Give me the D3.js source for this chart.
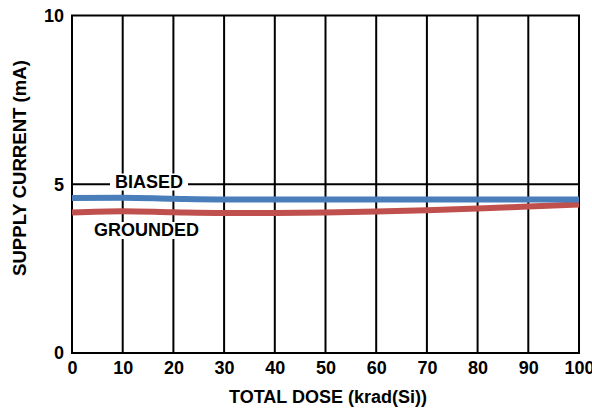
<!DOCTYPE html>
<html><head><meta charset="utf-8">
<script src="https://cdn.jsdelivr.net/npm/d3@7"></script>
<style>body{margin:0;background:#fff}svg{display:block}text{font-family:"Liberation Sans",Arial,sans-serif;font-weight:bold;fill:#000}</style>
</head><body>
<script>
const dose = [0,10,20,30,40,50,60,70,80,90,100];
const biased = [4.59,4.60,4.57,4.55,4.55,4.55,4.55,4.55,4.55,4.55,4.55];
const grounded = [4.16,4.20,4.17,4.15,4.15,4.16,4.19,4.23,4.28,4.34,4.40];
const xTicks = [0,10,20,30,40,50,60,70,80,90,100];
const yTicks = [0,5,10];
const seriesLabels = ["BIASED","GROUNDED"];

const W=592,H=408;
const svg=d3.select("body").append("svg").attr("width",W).attr("height",H);
const x=d3.scaleLinear().domain([0,100]).range([72,579]);
const y=d3.scaleLinear().domain([0,10]).range([353,15.5]);

// grid
const g=svg.append("g");
g.selectAll("line.v").data(xTicks).enter().append("line")
 .attr("x1",d=>x(d)).attr("x2",d=>x(d)).attr("y1",y(0)).attr("y2",y(10))
 .attr("stroke","#000").attr("stroke-width",2);
g.selectAll("line.h").data(yTicks).enter().append("line")
 .attr("x1",x(0)-1).attr("x2",x(100)+1).attr("y1",d=>y(d)).attr("y2",d=>y(d))
 .attr("stroke","#000").attr("stroke-width",2);

const lab=[{t:seriesLabels[0],x:149,yb:187.5},{t:seriesLabels[1],x:146.5,yb:236}];

// lines
const line=d3.line().x((d,i)=>x(dose[i])).y(d=>y(d)).curve(d3.curveMonotoneX);
svg.append("path").datum(grounded).attr("d",line).attr("fill","none").attr("stroke","#c0504d").attr("stroke-width",6);
svg.append("path").datum(biased).attr("d",line).attr("fill","none").attr("stroke","#4a7ebb").attr("stroke-width",6);

lab.forEach(l=>{
  const t=svg.append("text").attr("x",l.x).attr("y",l.yb).attr("text-anchor","middle").attr("font-size",18).text(l.t);
  const b=t.node().getBBox();
  svg.insert("rect",function(){return t.node();}).attr("x",b.x-5).attr("y",b.y+2).attr("width",b.width+10).attr("height",b.height-3).attr("fill","#fff");
});

// axes labels
const xAxis=d3.axisBottom(x).tickValues(xTicks).tickSize(0).tickPadding(8);
const ax=svg.append("g").attr("transform",`translate(0,${y(0)})`).call(xAxis);
ax.select(".domain").remove();
ax.attr("font-family",null).attr("font-size",null);
ax.selectAll("text").attr("font-size",18).attr("fill","#000");
const yAxis=d3.axisLeft(y).tickValues(yTicks).tickSize(0).tickPadding(8);
const ay=svg.append("g").attr("transform",`translate(${x(0)},0)`).call(yAxis);
ay.select(".domain").remove();
ay.attr("font-family",null).attr("font-size",null);
ay.selectAll("text").attr("font-size",18).attr("fill","#000");

svg.append("text").attr("x",328).attr("y",403).attr("text-anchor","middle").attr("font-size",18).text("TOTAL DOSE (krad(Si))");
svg.append("text").attr("transform","translate(26,168) rotate(-90)").attr("text-anchor","middle").attr("font-size",18.6).text("SUPPLY CURRENT (mA)");
</script>
</body></html>
